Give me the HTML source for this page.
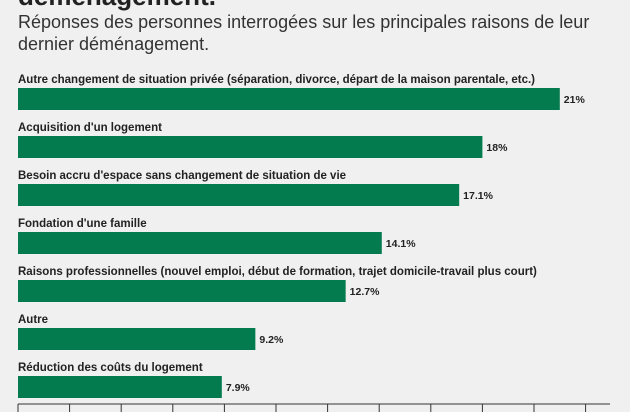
<!DOCTYPE html>
<html><head><meta charset="utf-8"><style>
body{margin:0;width:630px;height:412px;overflow:hidden;background:#f0f0f0;font-family:"Liberation Sans",sans-serif;position:relative}
.t{position:absolute;left:18px;top:-19px;font-size:26px;font-weight:bold;color:#222}
.s{position:absolute;left:18px;top:11px;font-size:18px;line-height:22px;color:#333;width:600px}
svg{position:absolute;left:0;top:0}
.lab{font-family:"Liberation Sans Narrow","Liberation Sans",sans-serif;font-weight:bold;font-size:11.5px;fill:#222}
.val{font-family:"Liberation Sans Narrow","Liberation Sans",sans-serif;font-weight:bold;font-size:10.5px;fill:#222}
</style></head><body>
<div class="t">déménagement.</div>
<div class="s">Réponses des personnes interrogées sur les principales raisons de leur dernier déménagement.</div>
<svg width="630" height="412" id="c"></svg>
<script>
const categories=["Autre changement de situation privée (séparation, divorce, départ de la maison parentale, etc.)","Acquisition d'un logement","Besoin accru d'espace sans changement de situation de vie","Fondation d'une famille","Raisons professionnelles (nouvel emploi, début de formation, trajet domicile-travail plus court)","Autre","Réduction des coûts du logement"];
const values=[21,18,17.1,14.1,12.7,9.2,7.9];
const valueLabels=["21%","18%","17.1%","14.1%","12.7%","9.2%","7.9%"];
const ticks=[0,2,4,6,8,10,12,14,16,18,20,22];
const svg=document.getElementById('c');const NS="http://www.w3.org/2000/svg";
const x=v=>18+v*25.8;const y=i=>88+i*48;
function mk(t,a,p){const e=document.createElementNS(NS,t);for(const k in a)e.setAttribute(k,a[k]);(p||svg).appendChild(e);return e;}
categories.forEach((c,i)=>{
 const l=mk('text',{x:18,y:y(i)-5,class:'lab'});l.textContent=c;
 
 
 const r=mk('rect',{x:x(0),y:y(i),width:x(values[i])-x(0),height:22,fill:'#047b4f'});
 
 
 const v=mk('text',{x:x(values[i])+4,y:y(i)+15,class:'val'});v.textContent=valueLabels[i];
 
 
});
const ax=mk('line',{x1:18,x2:610,y1:404,y2:404,stroke:'#333','stroke-width':1});


ticks.forEach(t=>{const k=mk('line',{x1:x(t),x2:x(t),y1:404,y2:412,stroke:'#333','stroke-width':1});
 
 });
</script>
</body></html>
